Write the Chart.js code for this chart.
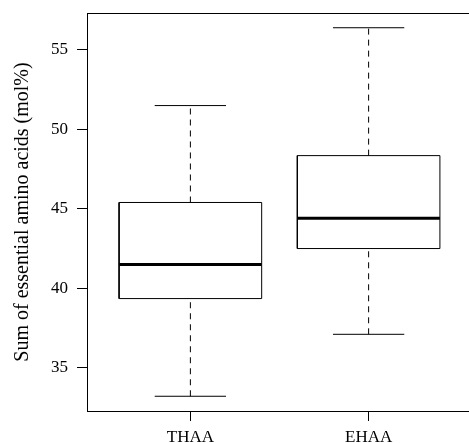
<!DOCTYPE html>
<html>
<head>
<meta charset="utf-8">
<script src="https://cdn.jsdelivr.net/npm/chart.js@4"></script>
<style>
  html, body { margin: 0; padding: 0; background: #fff; overflow: hidden; }
  canvas { display: block; }
</style>
</head>
<body>
<canvas id="boxChart" width="472" height="443"></canvas>
<script>
// box plot data (mol%)
var categories = ['THAA', 'EHAA'];
var whiskerLow = [33.2, 37.1];
var q1 = [39.35, 42.5];
var median = [41.5, 44.4];
var q3 = [45.4, 48.35];
var whiskerHigh = [51.5, 56.4];
var yTicks = [35, 40, 45, 50, 55];

// R-style ranges: 4% padding
var yMin = Math.min.apply(null, whiskerLow);
var yMax = Math.max.apply(null, whiskerHigh);
var yPad = (yMax - yMin) * 0.04;
var xPad = categories.length * 0.04;

var BOX_HALF = 0.4;
var CAP_HALF = 0.2;
var serif = 'Liberation Serif';

function seg(points, width, dash) {
    return {
        data: points,
        showLine: true,
        borderColor: '#000',
        borderWidth: width,
        borderDash: dash || [],
        pointRadius: 0,
        fill: false,
        tension: 0
    };
}

function noPad(scale) {
    scale.paddingTop = 0;
    scale.paddingBottom = 0;
    scale.paddingLeft = 0;
    scale.paddingRight = 0;
}

var datasets = [];
categories.forEach(function (c, i) {
    var x = i + 1;
    // dashed whiskers
    datasets.push(seg([{x: x, y: q3[i]}, {x: x, y: whiskerHigh[i]}], 1, [6, 5]));
    datasets.push(seg([{x: x, y: whiskerLow[i]}, {x: x, y: q1[i]}], 1, [6, 5]));
    // staples
    datasets.push(seg([{x: x - CAP_HALF, y: whiskerHigh[i]}, {x: x + CAP_HALF, y: whiskerHigh[i]}], 1));
    datasets.push(seg([{x: x - CAP_HALF, y: whiskerLow[i]}, {x: x + CAP_HALF, y: whiskerLow[i]}], 1));
    // box
    datasets.push(seg([
        {x: x - BOX_HALF, y: q1[i]}, {x: x + BOX_HALF, y: q1[i]},
        {x: x + BOX_HALF, y: q3[i]}, {x: x - BOX_HALF, y: q3[i]},
        {x: x - BOX_HALF, y: q1[i]}
    ], 1));
    // median
    datasets.push(seg([{x: x - BOX_HALF, y: median[i]}, {x: x + BOX_HALF, y: median[i]}], 3));
});

var ctx = document.getElementById('boxChart').getContext('2d');
var chart = new Chart(ctx, {
    type: 'scatter',
    data: { datasets: datasets },
    options: {
        responsive: false,
        animation: false,
        devicePixelRatio: 1,
        layout: { padding: 0 },
        plugins: {
            legend: { display: false },
            tooltip: { enabled: false }
        },
        scales: {
            x: {
                type: 'linear',
                position: 'bottom',
                min: 0.5 - xPad,
                max: categories.length + 0.5 + xPad,
                afterBuildTicks: function (scale) {
                    scale.ticks = categories.map(function (c, i) { return { value: i + 1 }; });
                },
                afterFit: function (scale) { scale.height = 32; noPad(scale); },
                ticks: {
                    callback: function (v) { return categories[v - 1]; },
                    font: { family: serif, size: 17 },
                    color: '#000',
                    padding: 6,
                    maxRotation: 0
                },
                grid: { drawOnChartArea: false, drawTicks: true, tickLength: 10, color: '#000' },
                border: { display: true, color: '#000', width: 1 }
            },
            xTop: {
                type: 'linear',
                position: 'top',
                min: 0.5 - xPad,
                max: categories.length + 0.5 + xPad,
                afterFit: function (scale) { scale.height = 13; noPad(scale); },
                ticks: { display: false },
                grid: { drawOnChartArea: false, drawTicks: false },
                border: { display: true, color: '#000', width: 1 }
            },
            y: {
                type: 'linear',
                position: 'left',
                min: yMin - yPad,
                max: yMax + yPad,
                afterBuildTicks: function (scale) {
                    scale.ticks = yTicks.map(function (v) { return { value: v }; });
                },
                afterFit: function (scale) { scale.width = 87; noPad(scale); },
                ticks: {
                    font: { family: serif, size: 17 },
                    color: '#000',
                    padding: 9
                },
                grid: { drawOnChartArea: false, drawTicks: true, tickLength: 10, color: '#000' },
                border: { display: true, color: '#000', width: 1 },
                title: {
                    display: true,
                    text: 'Sum of essential amino acids (mol%)',
                    font: { family: serif, size: 20 },
                    color: '#000',
                    padding: { top: 11, bottom: 0 }
                }
            }
        }
    }
});
</script>
</body>
</html>
